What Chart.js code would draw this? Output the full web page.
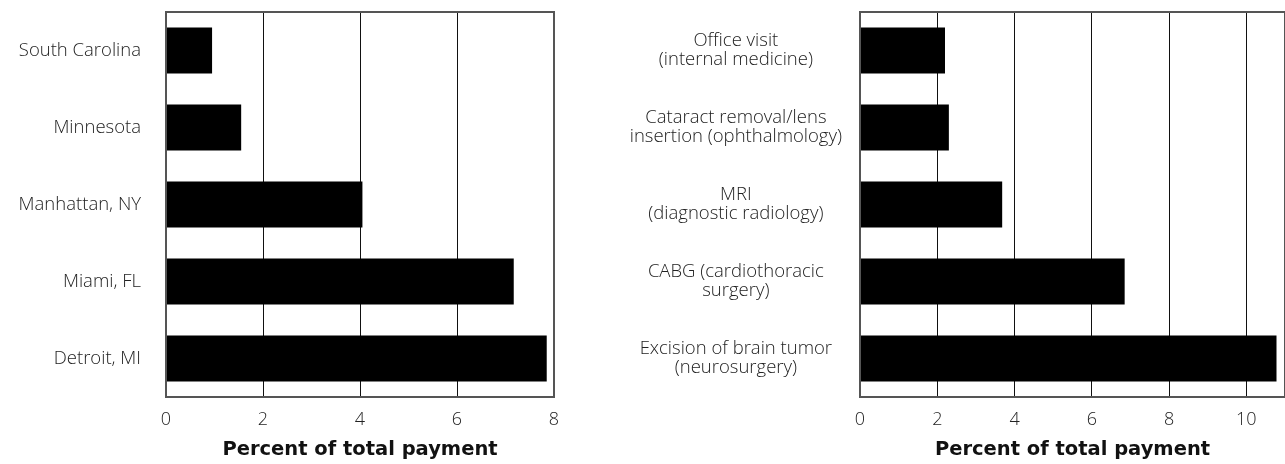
<!DOCTYPE html>
<html>
<head>
<meta charset="utf-8">
<script src="https://cdn.jsdelivr.net/npm/chart.js@4.4.0/dist/chart.umd.min.js"></script>
<style>
  body { margin: 0; background: #fff; }
  .wrap { position: absolute; top: 0; height: 464px; }
</style>
</head>
<body>
<div class="wrap" style="left:0; width:580px;"><canvas id="leftChart" width="580" height="464"></canvas></div>
<div class="wrap" style="left:590px; width:695px;"><canvas id="rightChart" width="695" height="464"></canvas></div>
<script>
// left panel: regions
const regionLabels = ['South Carolina', 'Minnesota', 'Manhattan, NY', 'Miami, FL', 'Detroit, MI'];
const regionValues = [0.95, 1.55, 4.05, 7.17, 7.85];
const regionTicks = [0, 2, 4, 6, 8];

// right panel: procedures
const procedureLabels = [
    ['Office visit', '(internal medicine)'],
    ['Cataract removal/lens', 'insertion (ophthalmology)'],
    ['MRI', '(diagnostic radiology)'],
    ['CABG (cardiothoracic', 'surgery)'],
    ['Excision of brain tumor', '(neurosurgery)']
];
const procedureValues = [2.2, 2.3, 3.68, 6.85, 10.78];
const procedureTicks = [0, 2, 4, 6, 8, 10];

const axisTitle = 'Percent of total payment';
const labelFont = '"Open Sans", Lato, sans-serif';
const titleFont = '"DejaVu Sans", sans-serif';

// draws the box round the plot area
const framePlugin = {
    id: 'frame',
    afterDraw(chart) {
        const a = chart.chartArea;
        const ctx = chart.ctx;
        ctx.save();
        ctx.strokeStyle = '#555';
        ctx.lineWidth = 2;
        ctx.strokeRect(a.left, a.top, a.right - a.left, a.bottom - a.top);
        ctx.restore();
    }
};

function makeChart(id, labels, values, tickList, maxValue, yWidth, crossAlign, yPad, rightPad) {
    const ctx = document.getElementById(id).getContext('2d');
    return new Chart(ctx, {
        type: 'bar',
        data: {
            labels: labels,
            datasets: [{
                data: values,
                backgroundColor: '#000',
                borderWidth: 0,
                barPercentage: 0.6,
                categoryPercentage: 1.0
            }]
        },
        options: {
            indexAxis: 'y',
            responsive: false,
            animation: false,
            layout: { padding: { top: 12, right: rightPad, bottom: 2, left: 0 } },
            plugins: { legend: { display: false }, tooltip: { enabled: false } },
            scales: {
                x: {
                    min: 0,
                    max: maxValue,
                    afterBuildTicks: function(scale) {
                        const list = tickList.slice();
                        if (maxValue > list[list.length - 1]) list.push(maxValue);
                        scale.ticks = list.map(v => ({ value: v }));
                    },
                    afterFit: function(scale) {
                        scale.height = 65;
                        scale.paddingLeft = 0;
                        scale.paddingRight = 0;
                    },
                    grid: { color: '#111', lineWidth: 1, drawTicks: false },
                    border: { display: false },
                    ticks: {
                        padding: 12,
                        color: '#222',
                        font: { family: labelFont, size: 18, weight: 300 },
                        callback: function(v) { return tickList.includes(v) ? String(v) : ''; }
                    },
                    title: {
                        display: true,
                        text: axisTitle,
                        color: '#111',
                        padding: { top: 4, bottom: 0 },
                        font: { family: titleFont, size: 19.5, weight: 'bold' }
                    }
                },
                y: {
                    grid: { display: false },
                    border: { display: false },
                    afterFit: function(scale) {
                        scale.width = yWidth;
                        scale.paddingTop = 0;
                        scale.paddingBottom = 0;
                    },
                    ticks: {
                        padding: yPad,
                        crossAlign: crossAlign,
                        color: '#222',
                        font: { family: labelFont, size: 18.5, weight: 300, lineHeight: 1.05 }
                    }
                }
            }
        },
        plugins: [framePlugin]
    });
}

makeChart('leftChart', regionLabels, regionValues, regionTicks, 8, 166, 'near', 17, 26);
makeChart('rightChart', procedureLabels, procedureValues, procedureTicks, 11, 270, 'center', 10, 0);
</script>
</body>
</html>
